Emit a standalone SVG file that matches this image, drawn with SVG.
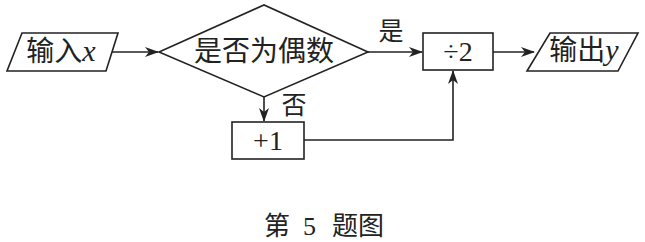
<svg xmlns="http://www.w3.org/2000/svg" width="645" height="242" viewBox="0 0 645 242">
<style>
.s{fill:#fff;stroke:#222;stroke-width:1.6}
.c{fill:none;stroke:#222;stroke-width:1.6}
.t{font-family:"Liberation Serif","Noto Sans CJK SC",serif;fill:#222;font-size:28px;text-anchor:middle}
.l{font-size:25px}
.cap{font-size:26px;text-anchor:start}
.i{font-style:italic;font-size:30px}
</style>
<defs>
<marker id="a" markerWidth="14" markerHeight="10" refX="13" refY="5" orient="auto" markerUnits="userSpaceOnUse">
<path d="M0,0 L14,5 L0,10 L4,5 Z" fill="#222"/>
</marker>
</defs>
<g id="connectors">
<line class="c" x1="112" y1="52" x2="158" y2="52" marker-end="url(#a)"/>
<line class="c" x1="368" y1="52" x2="422" y2="52" marker-end="url(#a)"/>
<line class="c" x1="493" y1="52" x2="534" y2="52" marker-end="url(#a)"/>
<line class="c" x1="264" y1="97" x2="264" y2="121" marker-end="url(#a)"/>
<polyline class="c" points="304,140 453,140 453,71" marker-end="url(#a)"/>
<text class="t l" x="391" y="40">是</text>
<text class="t l" x="294" y="114">否</text>
</g>
<g id="input">
<polygon class="s" points="22,33 118,33 106,71 7,71"/>
<text class="t" x="61" y="61">输入<tspan class="i">x</tspan></text>
</g>
<g id="decision">
<polygon class="s" points="159,52 264,5 368,52 264,97"/>
<text class="t" x="264" y="61">是否为偶数</text>
</g>
<g id="plus1">
<rect class="s" x="232" y="122" width="72" height="37"/>
<text class="t" x="268" y="150">+1</text>
</g>
<g id="div2">
<rect class="s" x="423" y="33" width="70" height="37"/>
<text class="t" x="458" y="61">÷2</text>
</g>
<g id="output">
<polygon class="s" points="550,33 638,33 618,71 527,71"/>
<text class="t" x="584" y="60">输出<tspan class="i">y</tspan></text>
</g>
<g id="caption">
<text class="t cap" y="235"><tspan x="264">第</tspan><tspan x="303">5</tspan><tspan x="332">题</tspan><tspan x="358">图</tspan></text>
</g>
</svg>
